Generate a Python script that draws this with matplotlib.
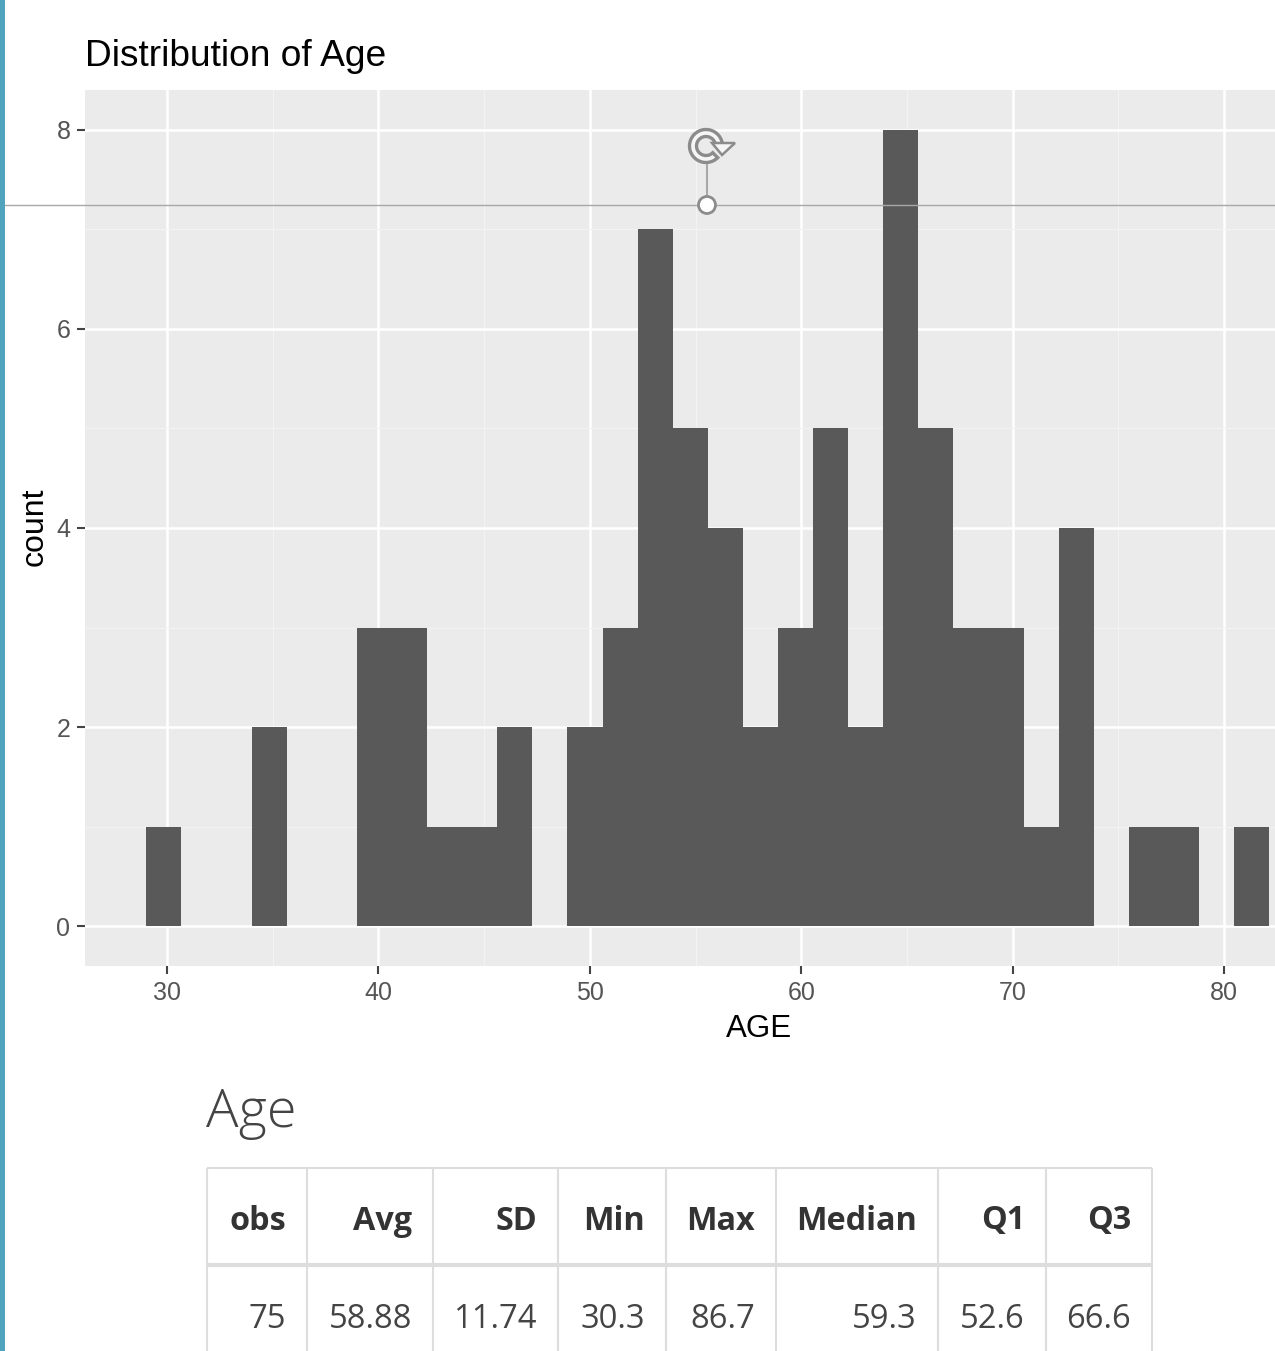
import matplotlib
matplotlib.use('Agg')
import matplotlib.pyplot as plt
from matplotlib.patches import Circle, Polygon, Rectangle, Wedge

## Data
## ====
first_bin = 29.02
bin_width = 1.66
counts = [1, 0, 0, 2, 0, 0, 3, 3, 1, 1, 2, 0, 2, 3, 7, 5, 4, 2, 3, 5, 2, 8, 5, 3, 3, 1, 4, 0, 1, 1, 0, 1]

x_ticks = [30, 40, 50, 60, 70, 80]
x_minor = [35, 45, 55, 65, 75]
y_ticks = [0, 2, 4, 6, 8]
y_minor = [1, 3, 5, 7]

table_header = ['obs', 'Avg', 'SD', 'Min', 'Max', 'Median', 'Q1', 'Q3']
table_row = ['75', '58.88', '11.74', '30.3', '86.7', '59.3', '52.6', '66.6']

## Figure
## ======
W, H = 1275, 1351
fig = plt.figure(figsize=(W / 100, H / 100), dpi=100)
plt.rcParams['font.family'] = ['Liberation Sans', 'DejaVu Sans']

# panel placed in pixels
left, right, top, bottom = 85, 1275, 90, 966
ax = fig.add_axes([left / W, 1 - bottom / H, (right - left) / W, (bottom - top) / H])
ax.set_facecolor('#ebebeb')
for s in ax.spines.values():
    s.set_visible(False)

centers = [first_bin + bin_width * (i + 0.5) for i in range(len(counts))]
ax.bar(centers, counts, width=bin_width, color='#595959', zorder=3)

ax.set_xlim(26.12, 82.41)
ax.set_ylim(-0.402, 8.402)
ax.set_xticks(x_ticks)
ax.set_yticks(y_ticks)
ax.set_xticks(x_minor, minor=True)
ax.set_yticks(y_minor, minor=True)
ax.grid(which='major', color='white', lw=1.8, zorder=1)
ax.grid(which='minor', color='#f3f3f3', lw=0.8, zorder=1)
ax.set_axisbelow(True)
ax.tick_params(which='major', length=6, width=1.5, color='#444444', labelcolor='#555555',
               labelsize=18)
ax.tick_params(axis='x', which='major', pad=4.5)
ax.tick_params(axis='y', which='major', pad=4.5)
ax.tick_params(which='minor', length=0)

## Titles and axis labels, also in pixels
## ======================================
over = fig.add_axes([0, 0, 1, 1], zorder=5)
over.set_xlim(0, W)
over.set_ylim(H, 0)
over.axis('off')
over.patch.set_alpha(0)

over.text(85, 57, 'Distribution of Age', fontsize=26.7, color='black', va='center', ha='left')
over.text(759, 1029, 'AGE', fontsize=22.5, color='black', va='center', ha='center')
over.text(35, 527, 'count', fontsize=23, color='black', va='center', ha='center', rotation=90)

## Slide strip and selection handle
## ================================
over.add_patch(Rectangle((0, 0), 5, H, color='#4fa3bd', lw=0))

over.plot([5, W], [205, 205], color='#a8a8a8', lw=1, zorder=6)
over.plot([707, 707], [165, 205], color='#a8a8a8', lw=1.5, zorder=6)
over.add_patch(Circle((707, 205), 8.5, fc='white', ec='#8c8c8c', lw=2, zorder=7))

over.add_patch(Wedge((706, 146), 16.5, 45, 360, width=7, fc='#f6f6f6', ec='#8c8c8c', lw=2.4, zorder=7))
over.add_patch(Polygon([(712, 143), (735, 143), (722, 155)], fc='#f6f6f6', ec='#8c8c8c', lw=1.8, zorder=8))

## Table
## =====
over.text(206, 1113, 'Age', fontsize=39, family=['Open Sans', 'DejaVu Sans'], weight='light',
          color='#444444', va='center', ha='left')

col_edges = [207, 307, 433, 558, 666, 776, 938, 1046, 1152]
line = '#dddddd'
for xe in col_edges:
    over.plot([xe, xe], [1168, H], color=line, lw=1.5, solid_capstyle='butt')
over.plot([207, 1152], [1168, 1168], color=line, lw=1.5, solid_capstyle='butt')
over.plot([207, 1152], [1265, 1265], color=line, lw=3, solid_capstyle='butt')

for i in range(len(table_header)):
    xr = col_edges[i + 1] - 21
    over.text(xr, 1221, table_header[i], fontsize=23.3, weight='bold', color='#333333',
              family=['Open Sans', 'DejaVu Sans'], ha='right', va='center')
    over.text(xr, 1320, table_row[i], fontsize=23.6, color='#444444',
              family=['Open Sans', 'DejaVu Sans'], ha='right', va='center')

plt.savefig('out.png', dpi=100)
